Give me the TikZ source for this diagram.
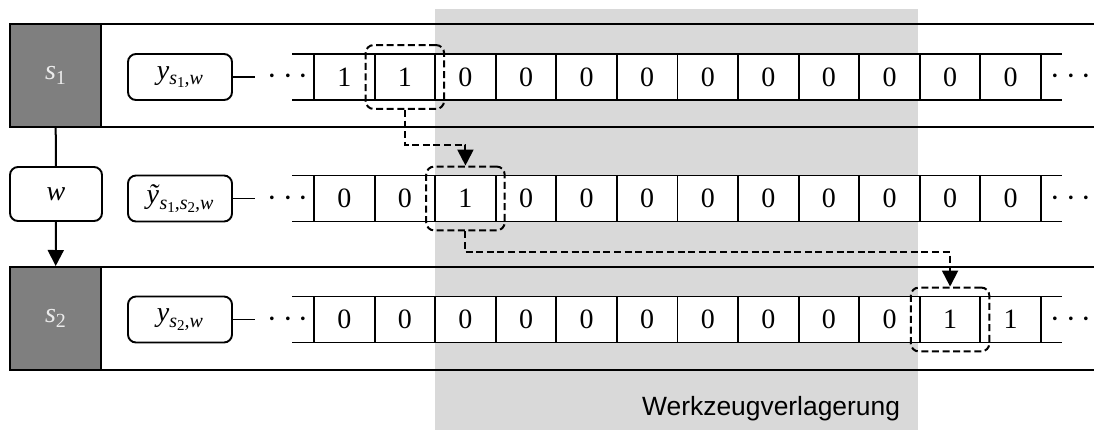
\documentclass[tikz,border=0pt]{standalone}
\usepackage{fontspec}
\setmainfont{Liberation Serif}
\newfontfamily\sansf{Liberation Sans}
\usetikzlibrary{arrows.meta,fit,calc}
\definecolor{bggrey}{HTML}{D9D9D9}
\definecolor{sgrey}{HTML}{7F7F7F}
\newcommand{\subA}[1]{\raisebox{-0.45ex}{\fontsize{10}{11}\selectfont #1}}
\newcommand{\subB}[1]{\raisebox{-0.3ex}{\fontsize{7.5}{8}\selectfont #1}}
\begin{document}
\begin{tikzpicture}[x=0.5pt,y=-0.5pt,font=\fontsize{14}{16}\selectfont,line width=1pt,
  cell/.style={draw,fill=white,minimum width=30.29pt,minimum height=23pt,inner sep=0pt,line width=0.95pt},
  lab/.style={draw,fill=white,rounded corners=4pt,minimum width=52pt,minimum height=23pt,inner sep=0pt,line width=0.95pt},
  sbox/.style={draw,fill=sgrey,text=white!92!black,minimum width=45.5pt,minimum height=51.5pt,inner sep=0pt},
  dotsn/.style={inner sep=0pt,font=\fontsize{17}{18}\selectfont},
  dbox/.style={draw,dash pattern=on 3.5pt off 1.8pt,rounded corners=4pt,inner sep=4pt,line width=1pt},
  darrow/.style={dash pattern=on 3.5pt off 1.8pt,-{Triangle[length=8pt,width=8pt]}}]
\useasboundingbox (0,0) rectangle (1094,430);
\fill[bggrey] (435,9) rectangle (918,430);
% lanes
\draw (10,24) -- (1094,24);
\draw (10,127) -- (1094,127);
\draw (10,267) -- (1094,267);
\draw (10,370) -- (1094,370);
\node[sbox] (s1) at (55.5,75.5) {\textit{s}\subA{1}};
\node[sbox] (s2) at (55.5,318.5) {\textit{s}\subA{2}};
\node[draw,fill=white,rounded corners=4pt,minimum width=46pt,minimum height=27pt,inner sep=0pt,line width=0.95pt] (w) at (56,194) {\textit{w}};
\draw (s1) -- (w);
\draw[-{Triangle[length=8pt,width=8pt]}] (w) -- (s2);
% rows
\foreach \r/\yy/\vals in {1/77/{1,1,0,0,0,0,0,0,0,0,0,0},2/198.5/{0,0,1,0,0,0,0,0,0,0,0,0},3/319.5/{0,0,0,0,0,0,0,0,0,0,1,1}}{
  \draw[line width=0.95pt] (292,{\yy-23}) -- (1062,{\yy-23});
  \draw[line width=0.95pt] (292,{\yy+23}) -- (1062,{\yy+23});
  \foreach \v [count=\i from 0] in \vals {
    \node[cell] (r\r c\i) at ({314+60.58*(\i+0.5)},\yy) {\v};
  }
  \coordinate (e\r) at (255,\yy);
  \node[dotsn] (dl\r) at (288,\yy) {$\cdots$};
  \node[dotsn] (dr\r) at (1071,\yy) {$\cdots$};
}
\node[lab] (l1) at (180,77) {\textit{y}\subA{\textit{s}\subB{1}\textit{,w}}};
\node[lab] (l2) at (180,198.5) {\textit{ỹ}\subA{\textit{s}\subB{1}\textit{,s}\subB{2}\textit{,w}}};
\node[lab] (l3) at (180,319.5) {\textit{y}\subA{\textit{s}\subB{2}\textit{,w}}};
\draw[line width=0.95pt] (l1) -- (e1);
\draw[line width=0.95pt] (l2) -- (e2);
\draw[line width=0.95pt] (l3) -- (e3);
% dashed highlight boxes
\node[dbox,fit=(r1c1)] (d1) {};
\node[dbox,fit=(r2c2)] (d2) {};
\node[dbox,fit=(r3c10)] (d3) {};
\coordinate (k1) at ($(d1.south)+(0,35)$);
\coordinate (k2) at ($(d2.south)+(0,21)$);
\draw[darrow] (d1.south) -- (k1) -| (d2.north);
\draw[darrow] (d2.south) -- (k2) -| (d3.north);
\node[anchor=base east,inner sep=0pt,font=\sansf\fontsize{13.2}{15}\selectfont] (t) at (901,415) {Werkzeugverlagerung};
\end{tikzpicture}
\end{document}
